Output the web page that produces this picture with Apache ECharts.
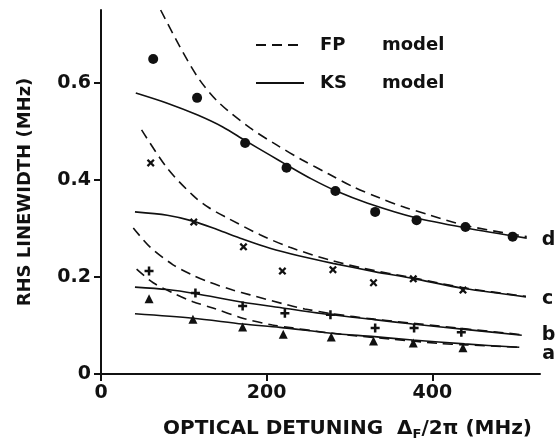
<!DOCTYPE html>
<html>
<head>
<meta charset="utf-8">
<script src="https://cdn.jsdelivr.net/npm/echarts@6/dist/echarts.min.js"></script>
<style>
html,body{margin:0;padding:0;background:#fff;}
#chart{width:555px;height:446px;}
</style>
</head>
<body>
<div id="chart"></div>
<script>
// ---- tick values ----
const xTicks = [0, 200, 400];
const yTicks = [0, 0.2, 0.4, 0.6];

// ---- measured data points ----
const dX = [63, 116, 174, 224, 283, 331, 381, 440, 497];
const dY = [0.649, 0.569, 0.476, 0.425, 0.377, 0.334, 0.317, 0.303, 0.283];
const cX = [60, 112, 172, 219, 280, 329, 377, 437];
const cY = [0.435, 0.313, 0.262, 0.212, 0.215, 0.188, 0.196, 0.173];
const bX = [58, 114, 171, 222, 277, 331, 378, 435];
const bY = [0.212, 0.167, 0.140, 0.125, 0.122, 0.095, 0.095, 0.086];
const aX = [58, 111, 171, 220, 278, 329, 377, 437];
const aY = [0.155, 0.113, 0.097, 0.082, 0.076, 0.068, 0.064, 0.054];

// ---- KS model curves (solid) ----
const dKSx = [42, 80, 116, 147, 174, 204, 224, 254, 284, 322, 380, 441, 514];
const dKSy = [0.579, 0.558, 0.534, 0.509, 0.481, 0.451, 0.431, 0.402, 0.377, 0.352, 0.322, 0.301, 0.280];
const cKSx = [41, 80, 111, 141, 171, 204, 240, 280, 330, 376, 439, 513];
const cKSy = [0.334, 0.327, 0.315, 0.297, 0.278, 0.259, 0.243, 0.228, 0.211, 0.197, 0.176, 0.159];
const bKSx = [41, 80, 113, 171, 216, 278, 330, 376, 439, 508];
const bKSy = [0.179, 0.174, 0.166, 0.148, 0.137, 0.122, 0.112, 0.103, 0.092, 0.080];
const aKSx = [41, 111, 171, 216, 278, 330, 376, 439, 505];
const aKSy = [0.124, 0.115, 0.103, 0.096, 0.084, 0.077, 0.070, 0.062, 0.055];

// ---- FP model curves (dashed) ----
const dFPx = [72, 95, 119, 143, 180, 212, 243, 275, 304, 336, 364, 396, 440, 514];
const dFPy = [0.750, 0.675, 0.606, 0.558, 0.507, 0.472, 0.441, 0.412, 0.386, 0.363, 0.345, 0.328, 0.306, 0.283];
const cFPx = [49, 80, 111, 130, 152, 192, 228, 276, 316, 380, 440, 513];
const cFPy = [0.503, 0.424, 0.368, 0.343, 0.322, 0.287, 0.261, 0.235, 0.218, 0.197, 0.177, 0.160];
const bFPx = [39, 59, 87, 109, 131, 159, 180, 226, 246, 280, 330, 380, 440, 508];
const bFPy = [0.301, 0.262, 0.225, 0.205, 0.189, 0.173, 0.163, 0.142, 0.134, 0.124, 0.113, 0.104, 0.093, 0.081];
const aFPx = [43, 63, 87, 111, 135, 171, 207, 231, 260, 300, 350, 408, 440, 505];
const aFPy = [0.216, 0.188, 0.167, 0.149, 0.136, 0.115, 0.101, 0.095, 0.088, 0.080, 0.072, 0.063, 0.060, 0.055];

const curveLabels = ['d', 'c', 'b', 'a'];

const FONT = 'DejaVu Sans';
const INK = '#111';
const zip = (xs, ys) => xs.map((x, i) => [x, ys[i]]);

const xMarkPath = 'path://M0,2 L2,0 L5,3 L8,0 L10,2 L7,5 L10,8 L8,10 L5,7 L2,10 L0,8 L3,5 Z';
const plusPath = 'path://M3.6,0 H6.4 V3.6 H10 V6.4 H6.4 V10 H3.6 V6.4 H0 V3.6 H3.6 Z';

function ks(xs, ys, lbl, dist, off) {
  return {
    type: 'line', name: 'KS', data: zip(xs, ys), smooth: 0.3,
    symbol: 'none', showSymbol: false,
    lineStyle: { color: INK, width: 1.6, type: 'solid' }, itemStyle: { color: INK },
    silent: true, z: 3,
    endLabel: { show: true, formatter: lbl, distance: dist, offset: off, color: INK,
      fontFamily: FONT, fontWeight: 'bold', fontSize: 19 }
  };
}
function fp(xs, ys) {
  return {
    type: 'line', name: 'FP', data: zip(xs, ys), smooth: 0.3,
    symbol: 'none', showSymbol: false,
    lineStyle: { color: INK, width: 1.6, type: [10, 6] }, itemStyle: { color: INK },
    silent: true, z: 3
  };
}
function pts(name, xs, ys, symbol, size) {
  return {
    type: 'scatter', name: name, data: zip(xs, ys), symbol: symbol, symbolSize: size,
    itemStyle: { color: INK, opacity: 1 }, silent: true, z: 4
  };
}

const chart = echarts.init(document.getElementById('chart'), null, { renderer: 'canvas' });
chart.setOption({
  animation: false,
  backgroundColor: '#fff',
  grid: { left: 101, right: 15, top: 10, bottom: 72 },
  legend: {
    data: ['FP', 'KS'],
    orient: 'vertical', left: 250, top: 31,
    itemWidth: 48, itemHeight: 14, itemGap: 20,
    selectedMode: false,
    itemStyle: { opacity: 0 },
    formatter: n => '{n|' + n + '}{m|model}',
    textStyle: {
      color: INK, fontFamily: FONT, fontWeight: 'bold', fontSize: 18,
      rich: {
        n: { width: 62, padding: [0, 0, 0, 11], fontFamily: FONT, fontWeight: 'bold', fontSize: 18, color: INK, lineHeight: 20 },
        m: { fontFamily: FONT, fontWeight: 'bold', fontSize: 18, color: INK, lineHeight: 20 }
      }
    }
  },
  xAxis: {
    type: 'value', min: 0, max: 530, interval: 200,
    name: 'OPTICAL DETUNING  Δ{sub|F}/2π (MHz)',
    nameLocation: 'middle', nameGap: 42,
    nameTextStyle: {
      color: INK, fontFamily: FONT, fontWeight: 'bold', fontSize: 20, padding: [0, 0, 0, 54],
      rich: { sub: { fontFamily: FONT, fontWeight: 'bold', fontSize: 13, color: INK, padding: [12, 0, 0, 0] } }
    },
    axisLine: { show: true, onZero: false, lineStyle: { color: INK, width: 2 } },
    axisTick: { show: true, inside: false, length: 7, lineStyle: { color: INK, width: 2 }, customValues: xTicks },
    axisLabel: { color: INK, fontFamily: FONT, fontWeight: 'bold', fontSize: 19, margin: 10, customValues: xTicks,
      formatter: v => String(v) },
    splitLine: { show: false }
  },
  yAxis: {
    type: 'value', min: 0, max: 0.75, interval: 0.2,
    name: 'RHS LINEWIDTH (MHz)',
    nameLocation: 'middle', nameGap: 67, nameRotate: 90,
    nameTextStyle: { color: INK, fontFamily: FONT, fontWeight: 'bold', fontSize: 18 },
    axisLine: { show: true, onZero: false, lineStyle: { color: INK, width: 2 } },
    axisTick: { show: true, inside: false, length: 7, lineStyle: { color: INK, width: 2 }, customValues: yTicks },
    axisLabel: { color: INK, fontFamily: FONT, fontWeight: 'bold', fontSize: 19, margin: 10, customValues: yTicks,
      formatter: v => (v === 0 ? '0' : v.toFixed(1)) },
    splitLine: { show: false }
  },
  series: [
    fp(dFPx, dFPy), fp(cFPx, cFPy), fp(bFPx, bFPy), fp(aFPx, aFPy),
    ks(dKSx, dKSy, curveLabels[0], 15, [0, 2]),
    ks(cKSx, cKSy, curveLabels[1], 16, [0, 2]),
    ks(bKSx, bKSy, curveLabels[2], 20, [0, 0]),
    ks(aKSx, aKSy, curveLabels[3], 23, [0, 7]),
    pts('d data', dX, dY, 'circle', 10),
    pts('c data', cX, cY, xMarkPath, 8),
    pts('b data', bX, bY, plusPath, 9),
    pts('a data', aX, aY, 'triangle', 9)
  ]
});
</script>
</body>
</html>
